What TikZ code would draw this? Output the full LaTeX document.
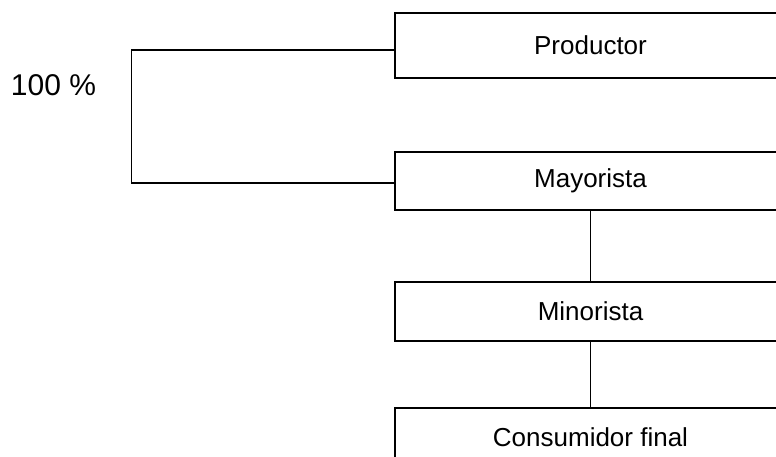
\documentclass[tikz,border=0pt]{standalone}
\usepackage{fontspec}
\setmainfont{Liberation Sans}
\usetikzlibrary{calc}
\begin{document}
\begin{tikzpicture}[x=1pt,y=-1pt,
  box/.style={draw, line width=1.3pt, minimum width=391pt, inner sep=0pt, font=\fontsize{26}{31}\selectfont},
  link/.style={line width=1.3pt}]
\useasboundingbox (0,0) rectangle (776,457);
\clip (0,0) rectangle (776,457);
\node[box, minimum height=65pt] (prod) at (590.5,45.5) {Productor};
\node[box, minimum height=58pt] (may) at (590.5,181) {Mayorista};
\node[box, minimum height=59pt] (min) at (590.5,311.5) {Minorista};
\node[box, minimum height=58pt] (cons) at (590.5,437) {Consumidor final};
\node[font=\fontsize{30}{36}\selectfont] (pct) at (53.5,85) {100 \%};
\draw[link] (may.south) -- (min.north);
\draw[link] (min.south) -- (cons.north);
\coordinate (bt) at ($(prod.west)+(0,4.5)$);
\coordinate (bb) at ($(may.west)+(0,2)$);
\draw[link] (bt) -- ++(-263,0) |- (bb);
\end{tikzpicture}
\end{document}
